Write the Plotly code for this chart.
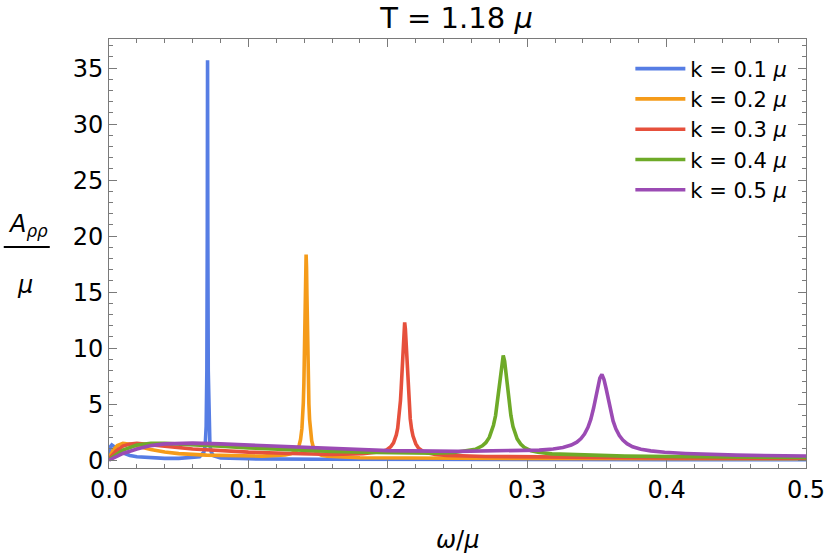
import plotly.graph_objects as go

# omega/mu sample points and A_rhorho/mu values
omega_k01 = [0, 0.001, 0.002, 0.004, 0.007, 0.01, 0.015, 0.02, 0.03, 0.04, 0.05, 0.06, 0.065,
             0.068, 0.069, 0.0697, 0.0702, 0.0705, 0.0707, 0.0709, 0.0712, 0.0717, 0.0724,
             0.0734, 0.075, 0.08, 0.1, 0.15, 0.2, 0.3, 0.4, 0.5]
a_k01 = [0.3, 1.2, 1.35, 1.2, 0.9, 0.65, 0.42, 0.3, 0.2, 0.16, 0.16, 0.2, 0.3,
         0.7, 1.3, 3.0, 8.0, 20.0, 35.7, 20.0, 8.0, 3.0, 1.3,
         0.7, 0.4, 0.2, 0.12, 0.08, 0.06, 0.04, 0.03, 0.03]

omega_k02 = [0, 0.003, 0.006, 0.01, 0.014, 0.02, 0.03, 0.04, 0.05, 0.07, 0.09, 0.11,
             0.1264, 0.1304, 0.1334, 0.1349, 0.1364, 0.1374, 0.1384, 0.1389, 0.1394,
             0.1398, 0.1402, 0.1405, 0.1408, 0.1411, 0.1414, 0.1417, 0.1420, 0.1423,
             0.1426, 0.1430, 0.1434, 0.1439, 0.1444, 0.1454, 0.1464, 0.1479, 0.1494,
             0.1524, 0.1564, 0.18, 0.25, 0.35, 0.5]
a_k02 = [0.2, 0.9, 1.3, 1.5, 1.45, 1.25, 0.95, 0.72, 0.58, 0.45, 0.38, 0.36,
         0.47, 0.56, 0.74, 0.94, 1.33, 1.84, 2.83, 3.72, 5.11,
         6.83, 9.35, 11.87, 14.75, 17.29, 18.35, 17.2, 14.65, 11.77,
         9.25, 6.73, 5.01, 3.62, 2.73, 1.74, 1.23, 0.83, 0.63,
         0.44, 0.36, 0.22, 0.17, 0.14, 0.12]

omega_k03 = [0, 0.005, 0.01, 0.015, 0.02, 0.03, 0.04, 0.06, 0.08, 0.1, 0.13, 0.16,
             0.1821, 0.1901, 0.1961, 0.1991, 0.2021, 0.2041, 0.2061, 0.2071, 0.2081,
             0.2091, 0.2096, 0.2101, 0.2106, 0.2111, 0.2116, 0.2121, 0.2126, 0.2131,
             0.2136, 0.2141, 0.2146, 0.2151, 0.2161, 0.2171, 0.2181, 0.2201, 0.2221,
             0.2251, 0.2281, 0.2341, 0.2421, 0.27, 0.32, 0.4, 0.5]
a_k03 = [0.1, 0.8, 1.25, 1.45, 1.5, 1.4, 1.25, 1.0, 0.85, 0.72, 0.6, 0.52,
         0.58, 0.65, 0.78, 0.92, 1.19, 1.55, 2.25, 2.86, 3.8,
         5.34, 6.4, 7.7, 9.18, 10.7, 11.85, 12.3, 11.75, 10.6,
         9.1, 7.6, 6.3, 5.25, 3.7, 2.75, 2.15, 1.45, 1.07,
         0.8, 0.65, 0.5, 0.43, 0.33, 0.25, 0.2, 0.17]

omega_k04 = [0, 0.005, 0.01, 0.02, 0.03, 0.04, 0.06, 0.08, 0.1, 0.13, 0.16, 0.19,
             0.2328, 0.2478, 0.2578, 0.2628, 0.2678, 0.2703, 0.2728, 0.2743, 0.2758,
             0.2773, 0.2783, 0.2798, 0.2808, 0.2818, 0.2828, 0.2838, 0.2848, 0.2858,
             0.2873, 0.2883, 0.2898, 0.2913, 0.2928, 0.2953, 0.2978, 0.3028, 0.3078,
             0.3178, 0.3328, 0.37, 0.42, 0.5]
a_k04 = [0.05, 0.5, 0.9, 1.35, 1.5, 1.5, 1.4, 1.25, 1.1, 0.92, 0.78, 0.68,
         0.62, 0.69, 0.83, 0.97, 1.28, 1.56, 2.03, 2.48, 3.12,
         3.98, 4.95, 6.64, 7.9, 8.94, 9.35, 8.85, 7.8, 6.55,
         4.85, 4.0, 3.0, 2.37, 1.9, 1.44, 1.15, 0.84, 0.7,
         0.56, 0.49, 0.36, 0.3, 0.25]

omega_k05 = [0, 0.005, 0.01, 0.02, 0.03, 0.04, 0.05, 0.06, 0.08, 0.1, 0.13, 0.16, 0.2, 0.25,
             0.2936, 0.3086, 0.3186, 0.3256, 0.3316, 0.3356, 0.3386, 0.3411, 0.3436,
             0.3456, 0.3476, 0.3491, 0.3506, 0.3521, 0.3536, 0.3551, 0.3566, 0.3581,
             0.3596, 0.3616, 0.3636, 0.3661, 0.3686, 0.3716, 0.3756, 0.3816, 0.3886,
             0.3986, 0.4136, 0.45, 0.5]
a_k05 = [0.0, 0.3, 0.6, 1.0, 1.3, 1.45, 1.52, 1.52, 1.45, 1.35, 1.18, 1.02, 0.85, 0.78,
         0.84, 0.9, 1.0, 1.13, 1.35, 1.61, 1.93, 2.33, 2.93,
         3.64, 4.63, 5.55, 6.53, 7.33, 7.65, 7.2, 6.4, 5.45,
         4.5, 3.5, 2.8, 2.2, 1.8, 1.47, 1.2, 0.98, 0.83,
         0.7, 0.6, 0.45, 0.37]

series_names = ["k = 0.1 <i>μ</i>", "k = 0.2 <i>μ</i>", "k = 0.3 <i>μ</i>",
                "k = 0.4 <i>μ</i>", "k = 0.5 <i>μ</i>"]
series_x = [omega_k01, omega_k02, omega_k03, omega_k04, omega_k05]
series_y = [a_k01, a_k02, a_k03, a_k04, a_k05]
colors = ["#567de4", "#f59b19", "#e6503c", "#6eaa28", "#9b4bb4"]

FONT = "DejaVu Sans"
FRAME = "#7a7a7a"

fig = go.Figure()
for name, xs, ys, col in zip(series_names, series_x, series_y, colors):
    fig.add_trace(go.Scatter(
        x=xs, y=ys, name=name, mode="lines",
        line=dict(color=col, width=3.6),
    ))

axis_common = dict(
    showgrid=False, zeroline=False, automargin=False,
    showline=True, linecolor=FRAME, linewidth=1, mirror="ticks",
    ticks="inside", ticklen=8, tickcolor=FRAME, tickwidth=1,
    tickfont=dict(family=FONT, size=24, color="black"),
)

fig.update_layout(
    width=830, height=559,
    paper_bgcolor="white", plot_bgcolor="white",
    margin=dict(l=109, r=24, t=39, b=91),
    font=dict(family=FONT, color="black"),
    title=dict(text="T = 1.18 <i>μ</i>", x=0.55, xanchor="center",
               y=0.968, yanchor="middle", automargin=False,
               font=dict(family=FONT, size=29)),
    xaxis=dict(**axis_common, range=[0, 0.5], dtick=0.1, tickformat=".1f",
               minor=dict(dtick=0.02, ticks="inside", ticklen=4, tickcolor=FRAME)),
    yaxis=dict(**axis_common, range=[-0.7, 37.6], dtick=5,
               minor=dict(dtick=1, ticks="inside", ticklen=4, tickcolor=FRAME)),
    legend=dict(x=0.748, y=0.978, xanchor="left", yanchor="top",
                bgcolor="rgba(0,0,0,0)", font=dict(family=FONT, size=21),
                itemwidth=50),
    showlegend=True,
)

# x axis label
fig.add_annotation(text="<i>ω</i>/<i>μ</i>", xref="paper", yref="paper",
                   x=0.5, y=-0.167, yanchor="middle", showarrow=False,
                   font=dict(family=FONT, size=24))
# y axis label as a fraction A_rhorho / mu
fig.add_annotation(text="<i>A</i><sub><i>ρρ</i></sub>", xref="paper", yref="paper",
                   x=-0.148, y=0.565, yanchor="middle", showarrow=False,
                   font=dict(family=FONT, size=24))
fig.add_shape(type="line", xref="paper", yref="paper",
              x0=-0.151, x1=-0.085, y0=0.515, y1=0.515,
              line=dict(color="black", width=2))
fig.add_annotation(text="<i>μ</i>", xref="paper", yref="paper",
                   x=-0.135, y=0.427, yanchor="middle", showarrow=False,
                   font=dict(family=FONT, size=24))

# the page's default body margin would shift the whole figure by 8 px
fig.write_html("out.html", config={"displayModeBar": False},
               post_script="document.body.style.margin = '0';")
